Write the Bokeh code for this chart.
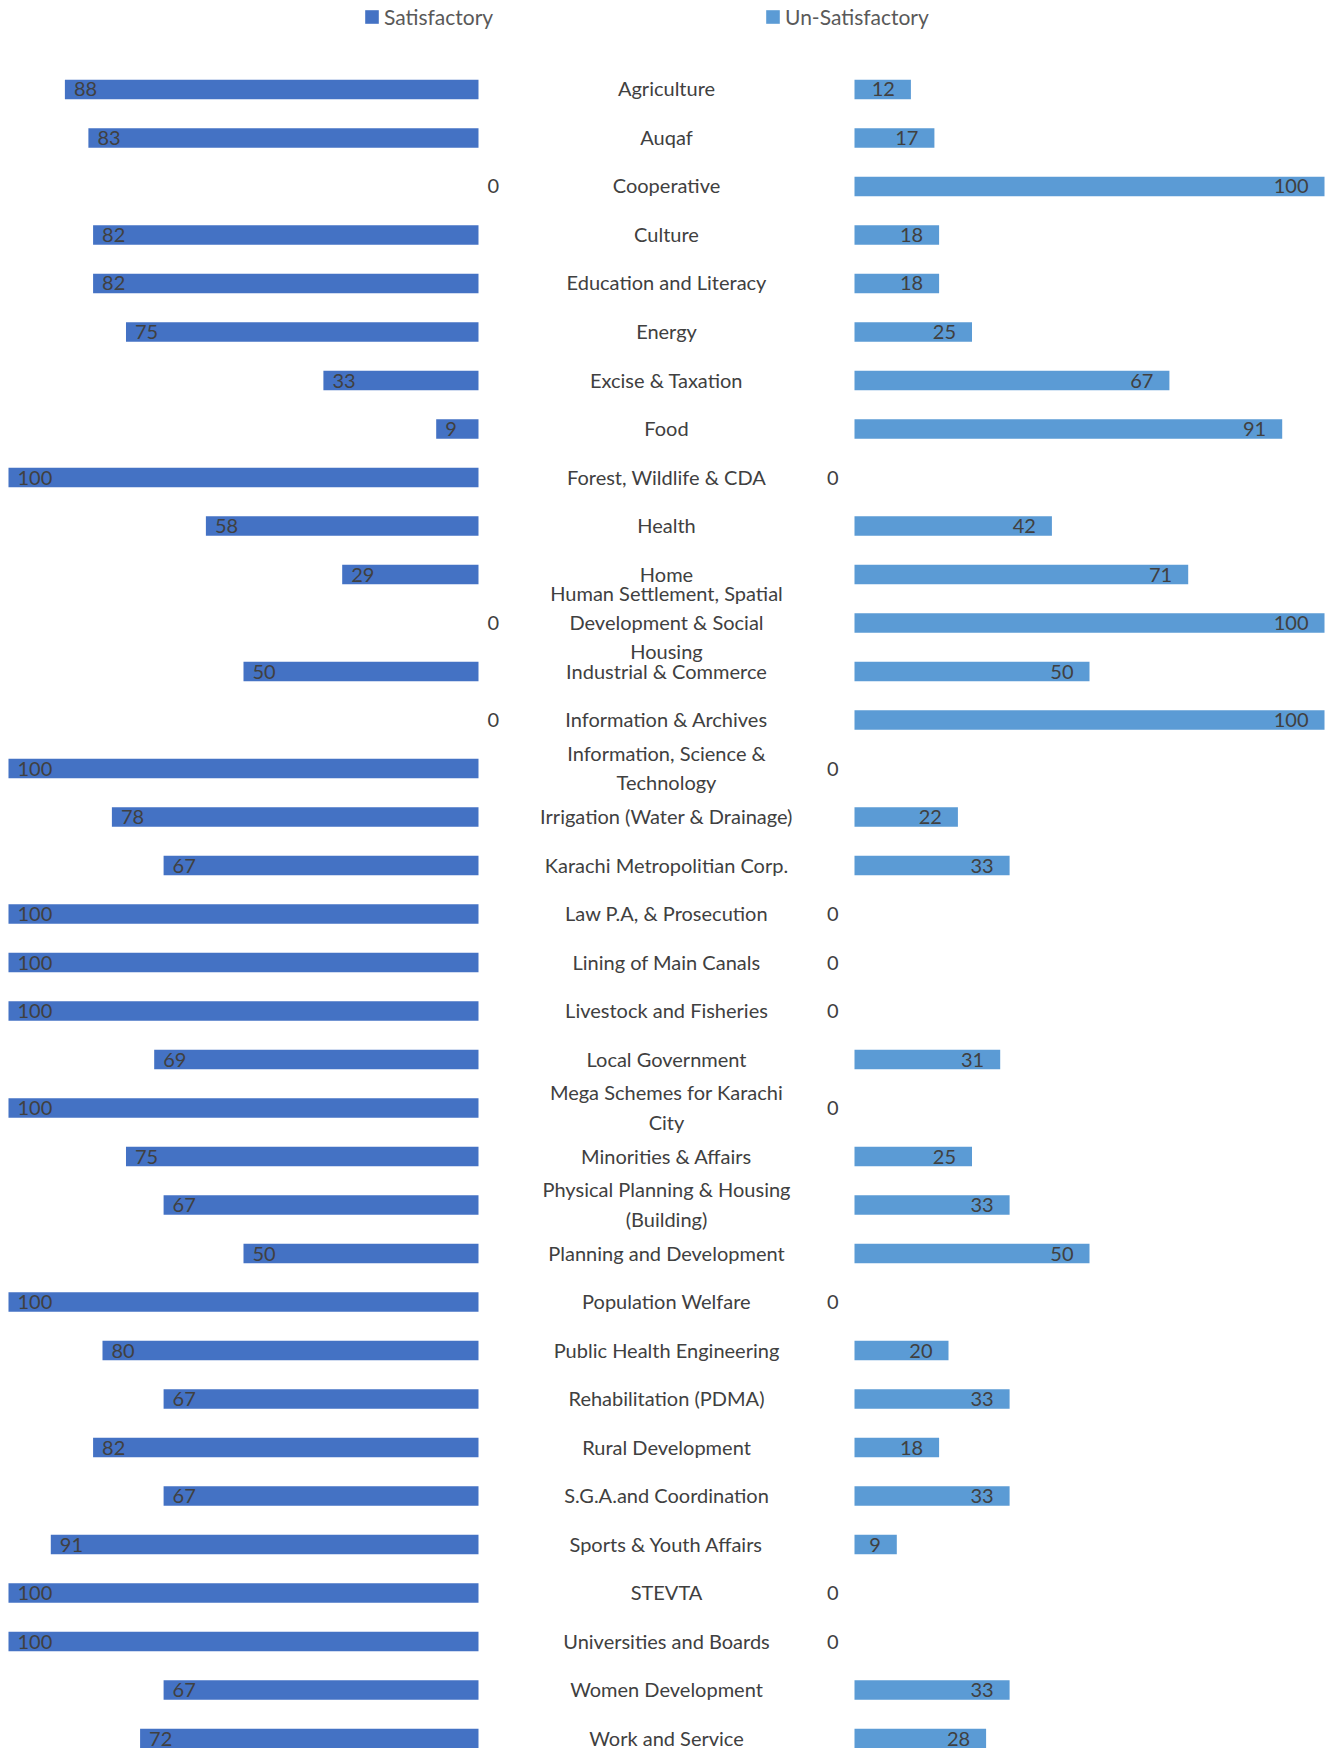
from bokeh.plotting import figure
from bokeh.models import ColumnDataSource, Range1d, Legend, LegendItem
from bokeh.core.properties import value
from bokeh.embed import file_html
from bokeh.resources import INLINE

categories = [
    "Agriculture", "Auqaf", "Cooperative", "Culture", "Education and Literacy",
    "Energy", "Excise & Taxation", "Food", "Forest, Wildlife & CDA", "Health",
    "Home", "Human Settlement, Spatial\nDevelopment & Social\nHousing",
    "Industrial & Commerce", "Information & Archives",
    "Information, Science &\nTechnology", "Irrigation (Water & Drainage)",
    "Karachi Metropolitian Corp.", "Law P.A, & Prosecution",
    "Lining of Main Canals", "Livestock and Fisheries", "Local Government",
    "Mega Schemes for Karachi\nCity", "Minorities & Affairs",
    "Physical Planning & Housing\n(Building)", "Planning and Development",
    "Population Welfare", "Public Health Engineering", "Rehabilitation (PDMA)",
    "Rural Development", "S.G.A.and Coordination", "Sports & Youth Affairs",
    "STEVTA", "Universities and Boards", "Women Development", "Work and Service",
]
satisfactory = [88, 83, 0, 82, 82, 75, 33, 9, 100, 58, 29, 0, 50, 0, 100, 78, 67,
                100, 100, 100, 69, 100, 75, 67, 50, 100, 80, 67, 82, 67, 91, 100,
                100, 67, 72]
unsatisfactory = [12, 17, 100, 18, 18, 25, 67, 91, 0, 42, 71, 100, 50, 100, 0, 22,
                  33, 0, 0, 0, 31, 0, 25, 33, 50, 0, 20, 33, 18, 33, 9, 0, 0, 33, 28]
series_names = ["Satisfactory", "Un-Satisfactory"]

SAT_COLOR = "#4472C4"
UNSAT_COLOR = "#5B9BD5"
TEXT_COLOR = "#404040"
FONT = "Lato"

L0 = -40.0  # base of left (satisfactory) bars
R0 = 40.0   # base of right (un-satisfactory) bars

n = len(categories)
rows = list(range(n))
src = ColumnDataSource(dict(
    y=rows,
    cat=categories,
    sat=satisfactory,
    unsat=unsatisfactory,
    sat_left=[L0 - v for v in satisfactory],
    unsat_right=[R0 + v for v in unsatisfactory],
    sat_txt=[str(v) for v in satisfactory],
    unsat_txt=[str(v) for v in unsatisfactory],
))

W, H = 1332, 1748
p = figure(width=W, height=H, output_backend="svg", toolbar_location=None,
           x_range=Range1d(-141.70, 141.70), y_range=Range1d(34.206, -1.835),
           min_border=0, outline_line_color=None)
p.axis.visible = False
p.grid.visible = False
p.background_fill_color = "white"
p.border_fill_color = "white"

bh = 0.40
r_sat = p.hbar(y="y", left="sat_left", right=L0, height=bh, source=src,
               fill_color=SAT_COLOR, line_color=None)
r_unsat = p.hbar(y="y", left=R0, right="unsat_right", height=bh, source=src,
                 fill_color=UNSAT_COLOR, line_color=None)

fs = "20px"
p.text(x=0, y="y", text="cat", source=src, text_align="center",
       text_baseline="middle", y_offset=-1, text_font=value(FONT), text_font_size=fs,
       text_color=TEXT_COLOR, text_line_height=1.22)
p.text(x="sat_left", y="y", text="sat_txt", source=src, text_align="left",
       text_baseline="middle", x_offset=9, text_font=value(FONT),
       text_font_size=fs, text_color=TEXT_COLOR)
p.text(x="unsat_right", y="y", text="unsat_txt", source=src, text_align="right",
       text_baseline="middle", x_offset=-16, text_font=value(FONT),
       text_font_size=fs, text_color=TEXT_COLOR)

for rend, name, xloc in [(r_sat, series_names[0], 363), (r_unsat, series_names[1], 764)]:
    lg = Legend(items=[LegendItem(label=name, renderers=[rend])],
                location=(xloc, 1719), orientation="horizontal",
                padding=0, margin=0, spacing=0,
                glyph_width=17, glyph_height=17, label_height=17,
                label_standoff=4, label_text_font=FONT,
                label_text_font_size="21px", label_text_color="#595959",
                background_fill_alpha=0, border_line_color=None)
    p.add_layout(lg, "center")

open("out.html", "w").write(file_html(p, INLINE))
